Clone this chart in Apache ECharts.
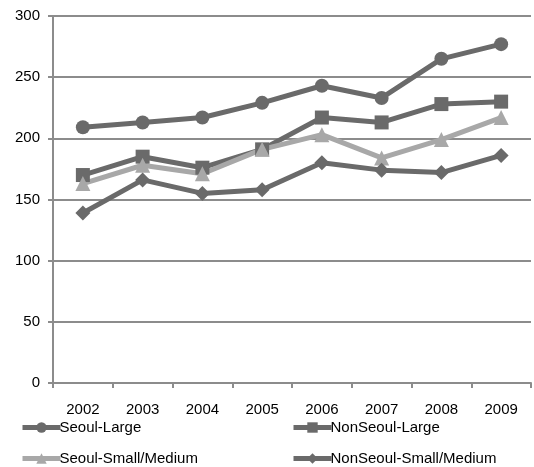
<!DOCTYPE html>
<html><head><meta charset="utf-8">
<script src="https://cdn.jsdelivr.net/npm/echarts@6/dist/echarts.min.js"></script>
<style>html,body{margin:0;padding:0;background:#fff}#c{width:534px;height:467px}</style>
</head><body><div id="c"></div>
<script>
const years = ['2002','2003','2004','2005','2006','2007','2008','2009'];
const seoulLarge = [209, 213, 217, 229, 243, 233, 265, 277];
const nonSeoulLarge = [170, 185, 176, 191, 217, 213, 228, 230];
const seoulSmall = [163, 178, 171, 191, 203, 184, 199, 217];
const nonSeoulSmall = [139, 166, 155, 158, 180, 174, 172, 186];
const yTicks = [0, 50, 100, 150, 200, 250, 300];

const dark = '#6a6a6a', light = '#a8a8a8';
const font = 'Liberation Sans';
function s(name, data, color, symbol, size) {
  return {name, type:'line', data, symbol, symbolSize:size,
    lineStyle:{color, width:5}, itemStyle:{color}, z: 3, animation:false};
}
function lg(name, left, top) {
  return {orient:'horizontal', left, top, padding:0, itemWidth:38, itemHeight:13,
    lineStyle:{width:5}, data:[name],
    textStyle:{fontSize:15, color:'#000', fontFamily:font, padding:[0,0,0,-6]}};
}
const chart = echarts.init(document.getElementById('c'));
chart.setOption({
  animation:false,
  textStyle:{fontFamily:font},
  grid:{left:53, right:3, top:16, bottom:84},
  xAxis:{type:'category', data:years, boundaryGap:true,
    axisLine:{lineStyle:{color:'#8c8c8c', width:2}},
    axisTick:{show:true, length:5, lineStyle:{color:'#8c8c8c', width:2}},
    axisLabel:{color:'#000', fontSize:15, fontFamily:font, margin:19}},
  yAxis:{type:'value', min:yTicks[0], max:yTicks[yTicks.length-1], interval:50,
    axisLine:{show:true, lineStyle:{color:'#8c8c8c', width:2}},
    axisTick:{show:true, length:5, lineStyle:{color:'#8c8c8c', width:2}},
    splitLine:{lineStyle:{color:'#8c8c8c', width:2}},
    axisLabel:{color:'#000', fontSize:15, fontFamily:font, margin:13}},
  legend:[
    lg('Seoul-Large', 20, 420),
    lg('Seoul-Small/Medium', 20, 451),
    lg('NonSeoul-Large', 291, 420),
    lg('NonSeoul-Small/Medium', 291, 451)
  ],
  series:[
    s('Seoul-Large', seoulLarge, dark, 'circle', 14),
    s('NonSeoul-Large', nonSeoulLarge, dark, 'rect', 14),
    s('Seoul-Small/Medium', seoulSmall, light, 'triangle', 15),
    s('NonSeoul-Small/Medium', nonSeoulSmall, dark, 'diamond', 15)
  ]
});
</script></body></html>
